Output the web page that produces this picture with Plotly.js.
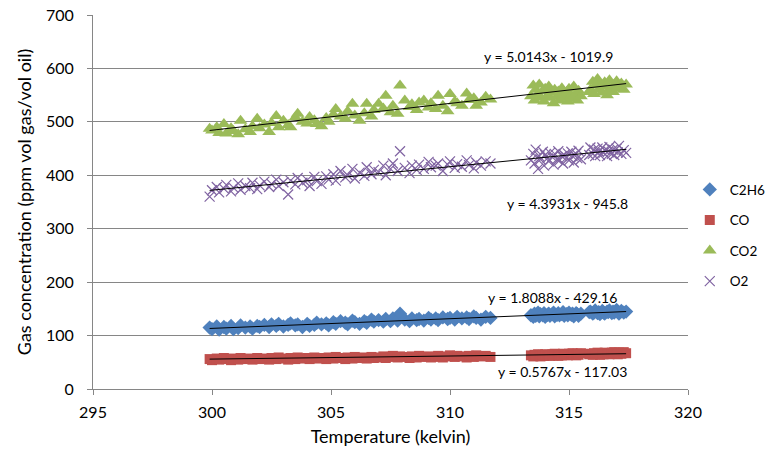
<!DOCTYPE html>
<html><head><meta charset="utf-8">
<script src="https://cdn.plot.ly/plotly-3.0.1.min.js"></script>
<style>html,body{margin:0;padding:0;background:#fff}#chart{width:774px;height:453px}</style>
</head><body><div id="chart"></div>
<script>
// Temperature readings (kelvin)
const temperature = [
 299.9, 300.0, 300.2, 300.3, 300.5, 300.6, 300.8, 300.9, 301.1, 301.2, 301.4, 301.6, 301.7, 301.9, 302.0,
 302.2, 302.4, 302.5, 302.7, 302.8, 303.0, 303.2, 303.3, 303.5, 303.6, 303.8, 304.0, 304.1, 304.3, 304.4,
 304.6, 304.8, 304.9, 305.1, 305.2, 305.4, 305.6, 305.7, 305.9, 306.0, 306.2, 306.4, 306.5, 306.7, 306.8,
 307.0, 307.2, 307.3, 307.5, 307.6, 307.8, 307.9, 308.1, 308.3, 308.4, 308.6, 308.7, 308.9, 309.1, 309.2,
 309.4, 309.5, 309.7, 309.9, 310.0, 310.2, 310.3, 310.5, 310.7, 310.8, 311.0, 311.1, 311.3, 311.5, 311.7,
 313.4, 313.5, 313.55, 313.6, 313.7, 313.75, 313.8, 313.9, 313.95, 314.0, 314.1,
 314.15, 314.2, 314.3, 314.35, 314.4, 314.5, 314.55, 314.6, 314.7, 314.75, 314.8,
 314.9, 314.95, 315.0, 315.1, 315.15, 315.2, 315.3, 315.35, 315.4, 315.5, 315.85,
 315.9, 316.0, 316.05, 316.1, 316.2, 316.25, 316.3, 316.4, 316.45, 316.5, 316.6,
 316.65, 316.7, 316.8, 316.85, 316.9, 317.0, 317.05, 317.1, 317.2, 317.3, 317.4
];
const c2h6 = [
 115, 112, 117, 111, 116, 113, 118, 112, 114, 119, 115, 117, 113, 118, 116,
 120, 116, 121, 118, 122, 117, 120, 123, 119, 121, 116, 122, 118, 120, 124,
 121, 123, 119, 125, 122, 127, 124, 121, 128, 125, 122, 127, 124, 130, 126,
 129, 126, 131, 127, 132, 128, 141, 130, 127, 132, 129, 131, 128, 133, 130,
 132, 129, 134, 131, 133, 130, 135, 132, 134, 131, 136, 133, 130, 135, 133,
 138, 135, 141, 137, 143, 136, 140, 138, 142, 135, 139,
 141, 137, 140, 143, 136, 139, 142, 138, 140, 144, 137,
 140, 138, 143, 139, 141, 136, 142, 140, 137, 141, 144,
 145, 141, 143, 147, 142, 144, 140, 146, 143, 141, 145,
 144, 147, 142, 145, 143, 148, 144, 141, 146, 143, 145
];
const co = [
 56, 54, 57, 55, 58, 56, 54, 57, 55, 58, 56, 57, 55, 58, 56,
 57, 55, 58, 56, 59, 57, 55, 58, 56, 59, 57, 58, 56, 59, 57,
 58, 56, 59, 57, 60, 58, 56, 59, 57, 60, 58, 59, 57, 60, 58,
 59, 61, 58, 60, 62, 59, 61, 60, 58, 61, 59, 62, 60, 61, 59,
 60, 62, 59, 61, 63, 60, 62, 61, 59, 62, 60, 63, 61, 62, 60,
 63, 61, 64, 62, 65, 63, 61, 64, 62, 65, 63,
 64, 62, 65, 63, 66, 64, 62, 65, 63, 66, 64,
 65, 63, 66, 64, 67, 65, 63, 66, 64, 67, 65,
 66, 64, 67, 65, 68, 66, 64, 67, 65, 68, 66,
 67, 65, 68, 66, 69, 67, 65, 68, 66, 69, 67
];
const co2 = [
 487, 484, 490, 479, 496, 478, 488, 483, 477, 502, 486, 481, 492, 506, 488,
 495, 481, 498, 511, 490, 502, 494, 490, 508, 515, 500, 497, 509, 503, 496,
 492, 507, 500, 514, 524, 510, 506, 520, 534, 512, 502, 516, 534, 510, 522,
 534, 525, 549, 518, 530, 515, 568, 540, 528, 533, 522, 536, 540, 527, 535,
 524, 549, 530, 520, 552, 538, 535, 530, 553, 541, 544, 530, 536, 547, 542,
 548, 568, 540, 560, 552, 570, 545, 558, 538, 562, 550,
 566, 545, 555, 535, 560, 548, 557, 540, 563, 550, 545,
 556, 538, 562, 549, 544, 566, 552, 540, 558, 548, 556,
 560, 575, 552, 568, 580, 560, 572, 555, 566, 574, 550,
 558, 578, 562, 556, 570, 576, 563, 568, 572, 560, 570
];
const o2 = [
 360, 372, 378, 368, 375, 382, 370, 377, 385, 373, 380, 376, 386, 374, 381,
 388, 378, 384, 392, 380, 387, 364, 390, 383, 395, 386, 391, 380, 397, 389,
 384, 398, 392, 402, 390, 408, 396, 400, 412, 394, 405, 399, 415, 402, 410,
 406, 418, 400, 412, 422, 408, 445, 414, 404, 418, 410, 420, 412, 425, 415,
 418, 422, 408, 420, 426, 414, 421, 416, 428, 419, 413, 424, 418, 426, 422,
 428, 440, 422, 448, 412, 436, 430, 444, 418, 438, 432,
 426, 442, 434, 420, 440, 430, 445, 428, 436, 422, 438,
 433, 441, 428, 444, 436, 424, 440, 432, 446, 430, 438,
 452, 440, 448, 436, 450, 444, 438, 452, 442, 447, 436,
 445, 453, 440, 448, 438, 450, 443, 455, 440, 447, 442
];
const seriesNames = ["C2H6", "CO", "CO2", "O2"];
const trendSlopes = [1.8088, 0.5767, 5.0143, 4.3931];
const trendIntercepts = [-429.16, -117.03, -1019.9, -945.8];
const trendLabels = ["y = 1.8088x - 429.16", "y = 0.5767x - 117.03", "y = 5.0143x - 1019.9", "y = 4.3931x - 945.8"];
const labelX = [314.3, 314.72, 314.12, 314.95];
const labelY = [172, 32, 622, 348];

const colors = ["#4F81BD", "#C0504D", "#9BBB59", "#8064A2"];
const symbols = ["diamond", "square", "triangle-up", "x-thin-open"];
const sizes = [11, 10, 12, 10];
const values = [c2h6, co, co2, o2];
const FONT = "Lato, 'Liberation Sans', sans-serif";

const traces = [];
values.forEach((v, i) => {
  traces.push({
    type: "scatter", mode: "markers", name: seriesNames[i],
    x: temperature, y: v, legendgroup: "g" + i,
    marker: {color: colors[i], symbol: symbols[i], size: sizes[i],
             line: {color: colors[i], width: i === 3 ? 1.2 : 0}},
    showlegend: true
  });
});
const xmin = Math.min(...temperature), xmax = Math.max(...temperature);
values.forEach((v, i) => {
  traces.push({
    type: "scatter", mode: "lines", x: [xmin, xmax],
    y: [trendSlopes[i] * xmin + trendIntercepts[i], trendSlopes[i] * xmax + trendIntercepts[i]],
    line: {color: "#000", width: 1}, showlegend: false, hoverinfo: "skip"
  });
});

const annotations = trendLabels.map((t, i) => ({
  x: labelX[i], y: labelY[i], xref: "x", yref: "y", text: t, showarrow: false,
  font: {family: FONT, size: 14, color: "#000"}
}));

const layout = {
  width: 774, height: 453,
  margin: {l: 93, r: 86, t: 15, b: 64, autoexpand: false},
  paper_bgcolor: "#fff", plot_bgcolor: "#fff",
  font: {family: FONT, size: 16, color: "#000"},
  xaxis: {
    range: [295, 320], dtick: 5, tick0: 295,
    showgrid: false, zeroline: false,
    showline: true, linecolor: "#868686", linewidth: 1,
    ticks: "outside", ticklen: 5, tickcolor: "#868686",
    tickfont: {family: FONT, size: 16},
    ticklabelstandoff: 4,
    title: {text: "Temperature (kelvin)", font: {family: FONT, size: 18}, standoff: 10}
  },
  yaxis: {
    range: [0, 700], dtick: 100,
    showgrid: true, gridcolor: "#868686", gridwidth: 1, zeroline: false,
    showline: true, linecolor: "#868686", linewidth: 1,
    ticks: "outside", ticklen: 5, tickcolor: "#868686",
    tickfont: {family: FONT, size: 16},
    ticklabelstandoff: 10,
    title: {text: "Gas concentration (ppm vol gas/vol oil)", font: {family: FONT, size: 18}, standoff: 9}
  },
  legend: {
    x: 1.003, xanchor: "left", y: 0.41, yanchor: "middle",
    font: {family: FONT, size: 13.5}, traceorder: "grouped", tracegroupgap: 10,
    bgcolor: "rgba(0,0,0,0)"
  },
  annotations: annotations,
  showlegend: true
};
Plotly.newPlot("chart", traces, layout, {displayModeBar: false, staticPlot: true});
</script></body></html>
